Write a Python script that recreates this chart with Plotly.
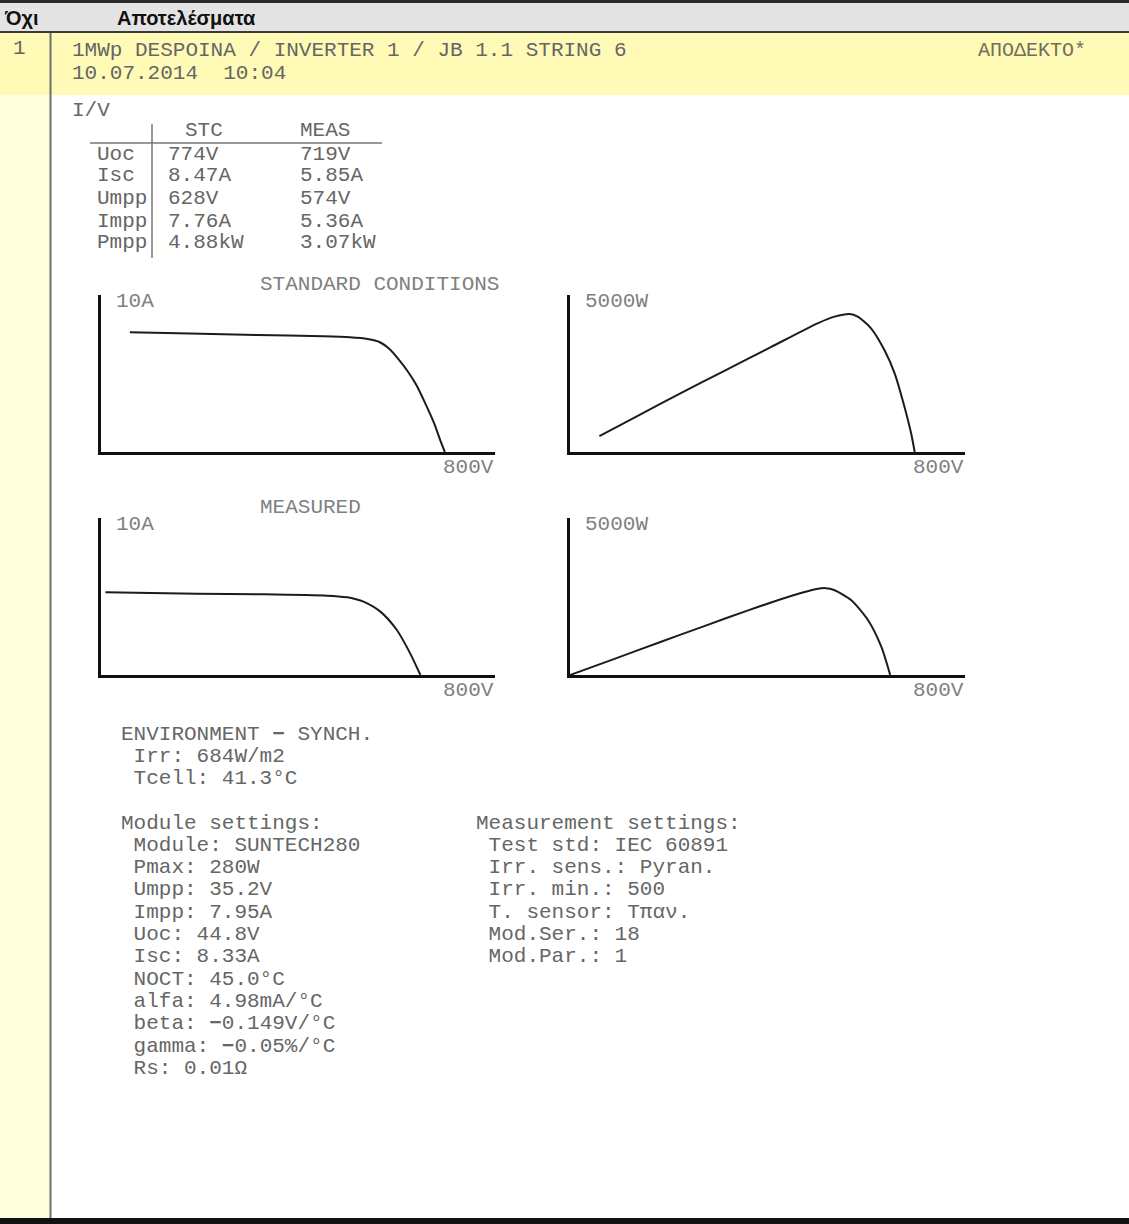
import plotly.graph_objects as go

W, H = 1129, 1224

# ---- measured / computed curve data ----
# STC I-V curve (V, A)
stc_iv_v = [65, 200, 350, 500, 560, 600, 628, 650, 670, 690, 710, 730, 750, 765, 774]
stc_iv_i = [8.46, 8.37, 8.27, 8.18, 8.11, 7.99, 7.76, 7.26, 6.55, 5.73, 4.74, 3.44, 2.03, 0.73, 0.0]
# STC P-V curve (V, W)
stc_pv_v = [66, 150, 250, 350, 450, 556, 594, 628, 646, 676, 706, 729, 751, 766, 774]
stc_pv_p = [560, 1262, 2090, 2895, 3700, 4550, 4785, 4880, 4785, 4373, 3607, 2782, 1603, 660, 0]
# Measured I-V curve (V, A)
meas_iv_v = [10, 216, 366, 509, 554, 574, 591, 629, 666, 696, 719]
meas_iv_i = [5.85, 5.75, 5.71, 5.61, 5.49, 5.36, 5.19, 4.48, 3.18, 1.53, 0.0]
# Measured P-V curve (V, W)
meas_pv_v = [0, 100, 200, 300, 400, 500, 554, 574, 593, 631, 669, 699, 719]
meas_pv_p = [0, 572, 1150, 1720, 2285, 2810, 3040, 3070, 3006, 2652, 1945, 1002, 0]

# axis extents of the small charts
V_MAX = 887
I_MAX = 11.1
P_MAX = 5550

# ---- summary table ----
table_cols = ["STC", "MEAS"]
param_names = ["Uoc", "Isc", "Umpp", "Impp", "Pmpp"]
stc_values = ["774V", "8.47A", "628V", "7.76A", "4.88kW"]
meas_values = ["719V", "5.85A", "574V", "5.36A", "3.07kW"]

# ---- report texts ----
DASH = "<b>−</b>"
header_cols = ["Όχι", "Αποτελέσματα"]
row_no = "1"
row_title = "1MWp DESPOINA / INVERTER 1 / JB 1.1 STRING 6"
row_date = "10.07.2014  10:04"
row_status = "ΑΠΟΔΕΚΤΟ*"
env_lines = [f"ENVIRONMENT {DASH} SYNCH.", " Irr: 684W/m2", " Tcell: 41.3°C"]
module_lines = [
    "Module settings:",
    " Module: SUNTECH280",
    " Pmax: 280W",
    " Umpp: 35.2V",
    " Impp: 7.95A",
    " Uoc: 44.8V",
    " Isc: 8.33A",
    " NOCT: 45.0°C",
    " alfa: 4.98mA/°C",
    f" beta: {DASH}0.149V/°C",
    f" gamma: {DASH}0.05%/°C",
    " Rs: 0.01Ω",
]
meas_lines = [
    "Measurement settings:",
    " Test std: IEC 60891",
    " Irr. sens.: Pyran.",
    " Irr. min.: 500",
    " T. sensor: Tπαν.",
    " Mod.Ser.: 18",
    " Mod.Par.: 1",
]

MONO = "Liberation Mono, Courier New, monospace"
SANS = "Liberation Sans, Arial, sans-serif"
TXT = "#666666"
LBL = "#808080"
FS = 21


def fx(x):
    return x / W


def fy(y):
    return 1 - y / H


annotations = []


def text(x, y, s, size=FS, color=TXT, family=MONO, anchor="left"):
    annotations.append(dict(
        x=fx(x), y=fy(y), xref="paper", yref="paper", text=s,
        showarrow=False, xanchor=anchor, yanchor="middle",
        font=dict(family=family, size=size, color=color), borderpad=0,
    ))


shapes = []


def rect(x0, y0, x1, y1, color):
    shapes.append(dict(type="rect", xref="paper", yref="paper",
                       x0=fx(x0), x1=fx(x1), y0=fy(y1), y1=fy(y0),
                       fillcolor=color, line=dict(width=0), layer="below"))


def hline(x0, x1, y, color, width):
    shapes.append(dict(type="line", xref="paper", yref="paper",
                       x0=fx(x0), x1=fx(x1), y0=fy(y), y1=fy(y),
                       line=dict(color=color, width=width)))


def vline(x, y0, y1, color, width):
    shapes.append(dict(type="line", xref="paper", yref="paper",
                       x0=fx(x), x1=fx(x), y0=fy(y0), y1=fy(y1),
                       line=dict(color=color, width=width)))


# page frame: header bar, highlighted result row, index column
rect(0, 0, W, 33, "#e4e4e4")
rect(0, 0, W, 3, "#2b2b2b")
rect(0, 31, W, 33, "#3a3a3a")
rect(0, 33, W, 95, "#fffab6")
rect(0, 95, 50, 1218, "#ffffdc")
vline(50.5, 33, 1218, "#6e6e6e", 2)
rect(0, 1218, W, H, "#111111")

text(3, 18, f"<b>{header_cols[0]}</b>", size=20, color="#111", family=SANS)
text(116, 18, f"<b>{header_cols[1]}</b>", size=20, color="#111", family=SANS)

text(12, 49, row_no)
text(71, 51, row_title)
text(71, 73, row_date)
text(977, 51, row_status, color="#6f6f5c", size=20)

# summary table
text(71, 110, "I/V")
text(184, 131, table_cols[0])
text(299, 131, table_cols[1])
hline(90, 382, 143, "#777", 1.5)
vline(152, 124, 258, "#777", 1.5)
row_y = [154, 176, 199, 221, 243]
for name, s_val, m_val, yy in zip(param_names, stc_values, meas_values, row_y):
    text(96, yy, name)
    text(167, yy, s_val)
    text(299, yy, m_val)

# chart captions
text(259, 284, "STANDARD CONDITIONS", color=LBL)
text(259, 507, "MEASURED", color=LBL)

# environment + settings blocks
for k, s in enumerate(env_lines):
    text(120, 734 + 22 * k, s)
for k, s in enumerate(module_lines):
    text(120, 823 + 22.3 * k, s)
for k, s in enumerate(meas_lines):
    text(475, 823 + 22.3 * k, s)

# ---- the four small charts ----
panels = [
    # (x0, x1, y_top, y_bottom, x data, y data, y max, y label)
    (101, 495, 295, 452, stc_iv_v, stc_iv_i, I_MAX, "10A"),
    (570, 965, 295, 452, stc_pv_v, stc_pv_p, P_MAX, "5000W"),
    (101, 495, 518, 675, meas_iv_v, meas_iv_i, I_MAX, "10A"),
    (570, 965, 518, 675, meas_pv_v, meas_pv_p, P_MAX, "5000W"),
]

fig = go.Figure()
layout_axes = {}
for n, (x0, x1, yt, yb, xs, ys, ymax, ylab) in enumerate(panels, start=1):
    sfx = "" if n == 1 else str(n)
    fig.add_trace(go.Scatter(
        x=xs, y=ys, mode="lines", xaxis="x" + sfx, yaxis="y" + sfx,
        line=dict(color="#1c1c1c", width=2, shape="spline", smoothing=0.7),
        hoverinfo="skip", showlegend=False, cliponaxis=False,
    ))
    common = dict(showline=True, linewidth=3, linecolor="#111", showgrid=False,
                  zeroline=False, showticklabels=False, ticks="", fixedrange=True)
    layout_axes["xaxis" + sfx] = dict(domain=[fx(x0), fx(x1)], range=[0, V_MAX],
                                      anchor="y" + sfx, **common)
    layout_axes["yaxis" + sfx] = dict(domain=[fy(yb), fy(yt)], range=[0, ymax],
                                      anchor="x" + sfx, **common)
    text(x0 + 14, yt + 6, ylab, color=LBL)
    text(x1, yb + 15, "800V", color=LBL, anchor="right")

fig.update_layout(
    width=W, height=H,
    margin=dict(l=0, r=0, t=0, b=0),
    paper_bgcolor="white", plot_bgcolor="rgba(0,0,0,0)",
    shapes=shapes, annotations=annotations,
    showlegend=False,
    **layout_axes,
)

fig.write_html("out.html", config={"displayModeBar": False})
